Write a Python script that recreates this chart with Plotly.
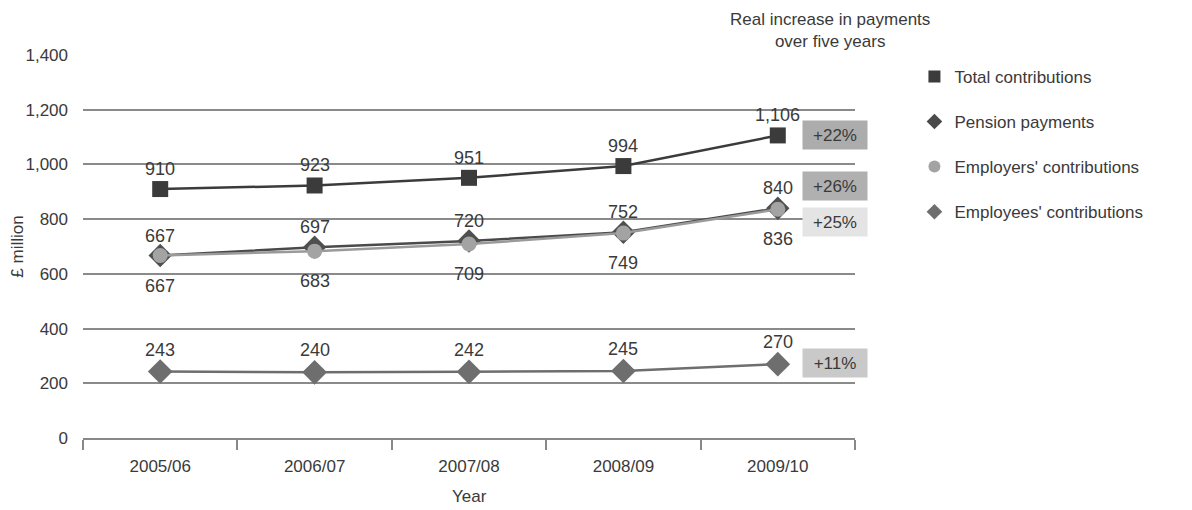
import plotly.graph_objects as go

years = ["2005/06", "2006/07", "2007/08", "2008/09", "2009/10"]
total = [910, 923, 951, 994, 1106]
pension = [667, 697, 720, 752, 840]
employers = [667, 683, 709, 749, 836]
employees = [243, 240, 242, 245, 270]
names = ["Total contributions", "Pension payments", "Employers' contributions", "Employees' contributions"]
pct = ["+22%", "+26%", "+25%", "+11%"]
y_ticks = [0, 200, 400, 600, 800, 1000, 1200, 1400]

FONT = "Liberation Sans"
TXT = "#3a3a3a"

def fmt(v):
    return f"{v:,}"

fig = go.Figure()

# (values, symbol, size, marker colour, line colour, label y-shift)
series = [
    (total, "square", 16, "#3b3b3b", "#3b3b3b", 20),
    (pension, "diamond", 18, "#4f4f4f", "#4a4a4a", 20),
    (employers, "circle", 15, "#a3a3a3", "#9a9a9a", -30),
    (employees, "diamond", 19, "#6e6e6e", "#6e6e6e", 22),
]
series_names = [names[0], names[1], names[2], names[3]]
for (vals, sym, size, mcol, lcol, ysh), nm in zip(series, series_names):
    fig.add_trace(go.Scatter(
        x=years, y=vals, mode="lines+markers", name=nm,
        line=dict(color=lcol, width=2.5),
        marker=dict(symbol=sym, size=size, color=mcol),
        showlegend=False, cliponaxis=False,
    ))
    for xv, v in zip(years, vals):
        fig.add_annotation(
            x=xv, y=v, xref="x", yref="y", text=fmt(v), showarrow=False,
            yshift=ysh, font=dict(family=FONT, size=18, color=TXT),
        )

# legend-only entries (markers only)
leg = [(names[0], "square", "#3b3b3b"), (names[1], "diamond", "#4a4a4a"),
       (names[2], "circle", "#a3a3a3"), (names[3], "diamond", "#6e6e6e")]
for i, (nm, sym, col) in enumerate(leg):
    fig.add_trace(go.Scatter(
        x=[None], y=[None], mode="markers", name=nm, legendgroup=f"g{i}",
        marker=dict(symbol=sym, size=20, color=col),
    ))

# percentage boxes
box_cols = ["#acacac", "#b0b0b0", "#e4e4e4", "#c9c9c9"]
box_y = [1107, 921, 790, 274]
for p, c, yy in zip(pct, box_cols, box_y):
    fig.add_annotation(
        x=0.974, xref="paper", y=yy, yref="y", text=p, showarrow=False,
        xanchor="center", yanchor="middle",
        font=dict(family=FONT, size=17, color=TXT),
        bgcolor=c, width=62, height=26, borderpad=1, align="center",
    )

fig.add_annotation(
    x=0.968, xref="paper", y=1.064, yref="paper", xanchor="center", yanchor="middle",
    text="Real increase in payments<br>over five years", showarrow=False,
    font=dict(family=FONT, size=17, color=TXT), align="center",
)

fig.add_annotation(
    x=0.5, xref="paper", y=-0.154, yref="paper", xanchor="center", yanchor="middle",
    text="Year", showarrow=False, font=dict(family=FONT, size=17, color=TXT),
)

fig.update_layout(
    width=1192, height=510,
    margin=dict(l=75, r=345, t=47, b=80, autoexpand=False),
    paper_bgcolor="white", plot_bgcolor="white",
    font=dict(family=FONT, size=17, color=TXT),
    legend=dict(x=1.077, y=0.99, xanchor="left", yanchor="top",
                font=dict(family=FONT, size=17, color=TXT),
                tracegroupgap=20, itemsizing="constant"),
    xaxis=dict(
        type="category", tickson="boundaries", ticks="outside", ticklen=10,
        tickcolor="#888888", tickwidth=1.5, showline=True, linecolor="#888888",
        linewidth=2, showgrid=False, range=[-0.5, 4.5], automargin=False,
        ticklabelstandoff=12,
        tickfont=dict(family=FONT, size=17, color=TXT),
    ),
    yaxis=dict(
        range=[0, 1400], tickvals=y_ticks, tickformat=",", showgrid=True,
        gridcolor="#8a8a8a", gridwidth=1.5, zeroline=False, ticks="",
        ticklabelstandoff=14, automargin=False,
        tickfont=dict(family=FONT, size=17, color=TXT),
        title=dict(text="£ million", font=dict(family=FONT, size=17, color=TXT), standoff=6),
    ),
)

fig.write_html("out.html")
